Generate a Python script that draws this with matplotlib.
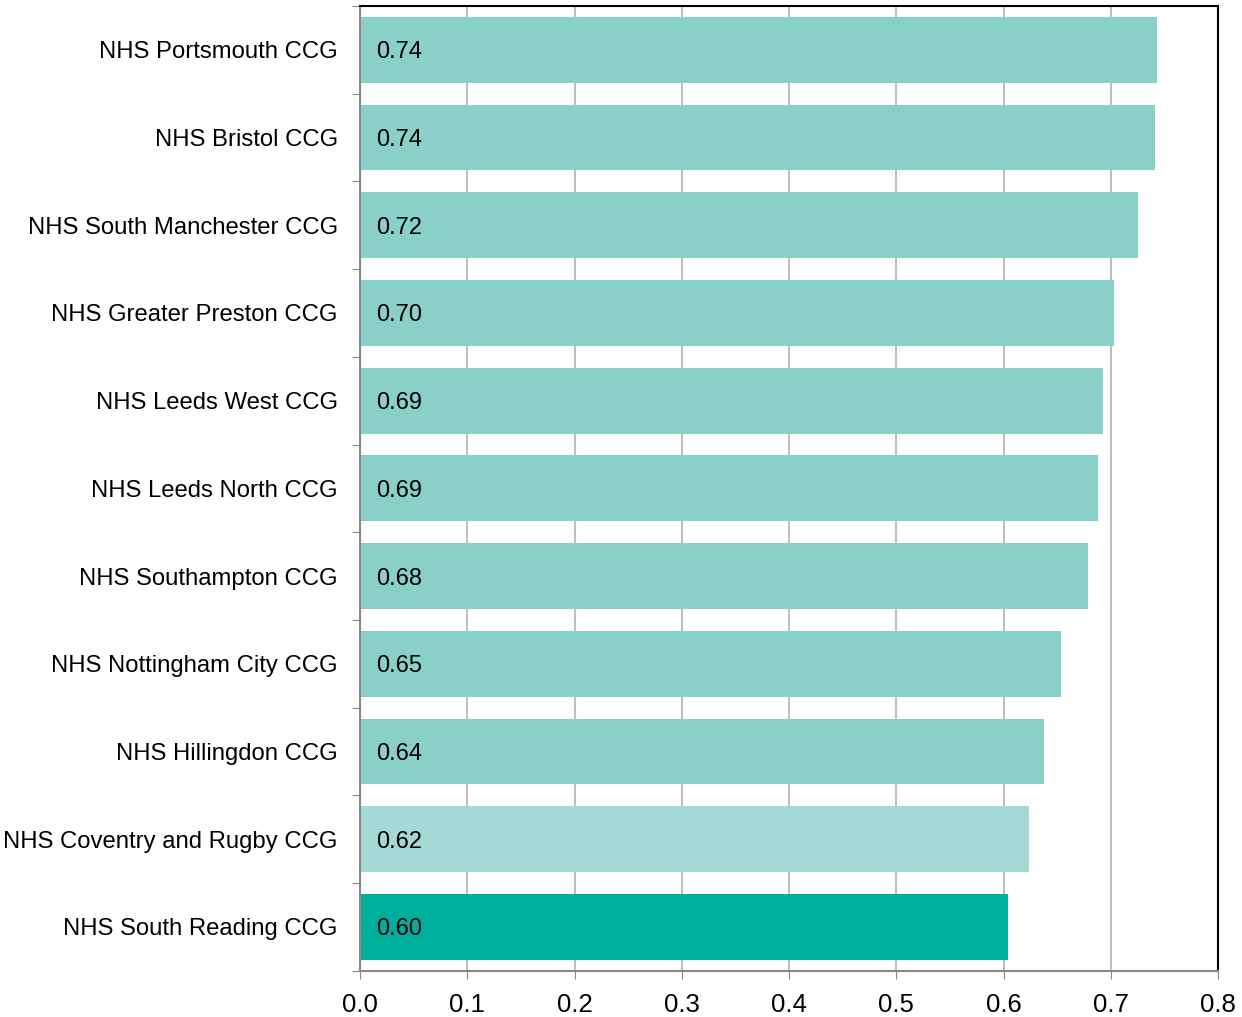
import matplotlib.pyplot as plt

plt.rcParams['font.family'] = ['Liberation Sans', 'DejaVu Sans']

ccgs = [
    'NHS Portsmouth CCG',
    'NHS Bristol CCG',
    'NHS South Manchester CCG',
    'NHS Greater Preston CCG',
    'NHS Leeds West CCG',
    'NHS Leeds North CCG',
    'NHS Southampton CCG',
    'NHS Nottingham City CCG',
    'NHS Hillingdon CCG',
    'NHS Coventry and Rugby CCG',
    'NHS South Reading CCG',
]
scores = [0.743, 0.741, 0.725, 0.703, 0.693, 0.688, 0.679, 0.654, 0.638, 0.624, 0.604]
bar_colors = ['#88D0C8'] * 9 + ['#A3DAD5', '#00AE9E']

fig = plt.figure(figsize=(12.42, 10.17), dpi=100)
ax = fig.add_axes([0.2899, 0.0455, 0.6908, 0.9486])

pos = list(range(len(ccgs)))
ax.barh(pos, scores, height=0.75, color=bar_colors, zorder=2)
for y, v in zip(pos, scores):
    ax.text(0.015, y, f'{v:.2f}', va='center_baseline', ha='left', fontsize=17, zorder=3)

ax.set_ylim(len(ccgs) - 0.5, -0.5)
ax.set_xlim(0, 0.8)
ax.set_xticks([i / 10 for i in range(9)])
ax.set_xticklabels([f'{i / 10:.1f}' for i in range(9)], fontsize=18.5)
ax.set_yticks([p - 0.5 for p in pos] + [len(ccgs) - 0.5])
ax.set_yticklabels([])
ax.set_yticks(pos, minor=True)
ax.set_yticklabels(ccgs, minor=True, fontsize=17.2)
ax.tick_params(axis='y', which='minor', length=0, pad=16)
ax.tick_params(axis='y', which='major', length=6, color='#888888')
ax.tick_params(axis='x', length=6, color='#888888', pad=10)

ax.grid(axis='x', color='#C0C0C0', linewidth=1.5, zorder=1)
for side in ['left', 'bottom']:
    ax.spines[side].set_color('#888888')
    ax.spines[side].set_linewidth(1.5)
for side in ['top', 'right']:
    ax.spines[side].set_color('black')
    ax.spines[side].set_linewidth(1.5)

plt.savefig('out.png', dpi=100)
